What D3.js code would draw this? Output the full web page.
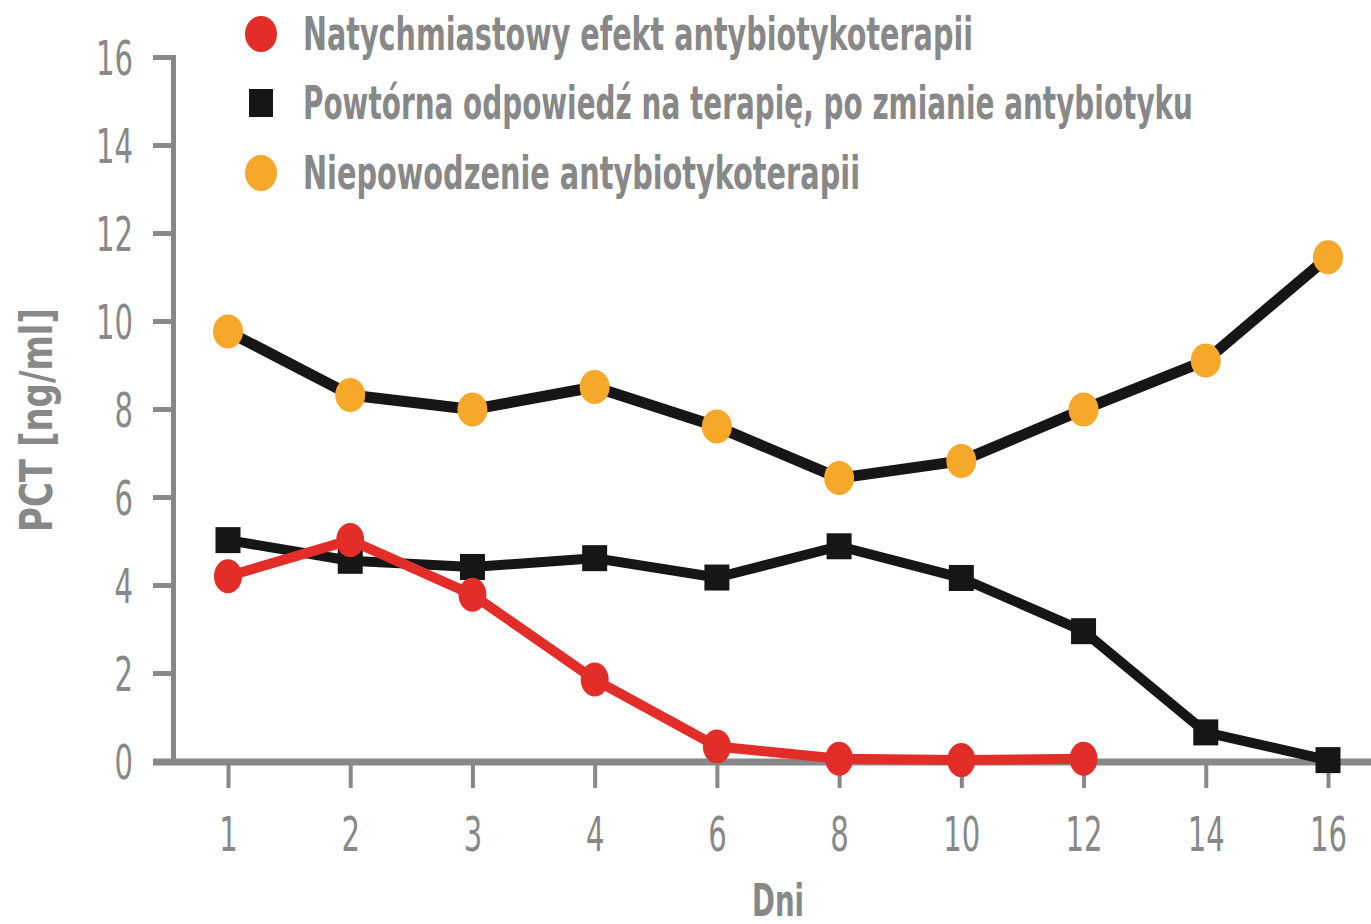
<!DOCTYPE html>
<html><head><meta charset="utf-8">
<script src="https://cdn.jsdelivr.net/npm/d3@7"></script>
<style>
html,body{margin:0;padding:0;background:#fff;}
svg{display:block;}
text{font-family:"Liberation Sans Narrow","DejaVu Sans Condensed","Liberation Sans",Arial,sans-serif;}
</style></head>
<body>
<script>
const days = ["1","2","3","4","6","8","10","12","14","16"];
const yTicks = [0,2,4,6,8,10,12,14,16];
const seriesNames = [
  "Natychmiastowy efekt antybiotykoterapii",
  "Powtórna odpowiedź na terapię, po zmianie antybiotyku",
  "Niepowodzenie antybiotykoterapii"
];
const immediate = [4.2, 5.02, 3.78, 1.85, 0.33, 0.05, 0.02, 0.05, null, null];
const repeated  = [5.02, 4.55, 4.41, 4.61, 4.17, 4.88, 4.16, 2.95, 0.65, 0.02];
const failure   = [9.76, 8.32, 7.99, 8.5, 7.6, 6.43, 6.82, 7.99, 9.1, 11.45];
const xTitle = "Dni";
const yTitle = "PCT [ng/ml]";

const W = 1371, H = 924;
const gray = "#888888";
const red = "#e32d29", orange = "#f6a82b", black = "#161616";

const svg = d3.select("body").append("svg").attr("width", W).attr("height", H);

const x = d3.scalePoint().domain(days).range([228, 1328]);
const y = d3.scaleLinear().domain([0, 16]).range([761, 57]);

// X axis baseline
svg.append("line").attr("x1", 153).attr("x2", W).attr("y1", y(0)+1).attr("y2", y(0)+1)
  .attr("stroke", gray).attr("stroke-width", 7);

// Y axis
const yAxis = svg.append("g").attr("transform", "translate(173,0)")
  .call(d3.axisLeft(y).tickValues(yTicks).tickSize(20).tickSizeOuter(20).tickPadding(20));
yAxis.select(".domain").attr("stroke", gray).attr("stroke-width", 5);
yAxis.selectAll(".tick line").attr("stroke", gray).attr("stroke-width", 5);
yAxis.selectAll(".tick text").attr("fill", gray).attr("font-size", 48)
  .attr("font-family", null).attr("dy", "0.36em")
  .each(function(){ const t=d3.select(this); t.attr("textLength", 18.5*t.text().length).attr("lengthAdjust","spacingAndGlyphs"); });

// X axis ticks/labels
const xAxis = svg.append("g").attr("transform", `translate(0,${y(0)+1})`)
  .call(d3.axisBottom(x).tickSize(26).tickPadding(28));
xAxis.select(".domain").remove();
xAxis.selectAll(".tick line").attr("stroke", gray).attr("stroke-width", 4);
xAxis.selectAll(".tick text").attr("fill", gray).attr("font-size", 48)
  .attr("font-family", null).attr("dy", "0.72em")
  .each(function(){ const t=d3.select(this); t.attr("textLength", 18.5*t.text().length).attr("lengthAdjust","spacingAndGlyphs"); });

// Titles
svg.append("text").attr("x", 778).attr("y", 916).attr("text-anchor", "middle")
  .attr("fill", gray).attr("font-weight", "bold").attr("font-size", 44).text(xTitle)
  .attr("textLength", 52).attr("lengthAdjust","spacingAndGlyphs");
svg.append("text").attr("transform", "translate(52,420) rotate(-90)").attr("text-anchor", "middle")
  .attr("fill", gray).attr("font-weight", "bold").attr("font-size", 44).text(yTitle)
  .attr("textLength", 224).attr("lengthAdjust","spacingAndGlyphs");

// Lines
const line = d3.line().defined(d => d.v != null).x(d => x(d.day)).y(d => y(d.v));
const toPts = arr => arr.map((v, i) => ({day: days[i], v}));

svg.append("path").datum(toPts(failure)).attr("d", line)
  .attr("fill", "none").attr("stroke", black).attr("stroke-width", 11).attr("stroke-linejoin", "round");
svg.append("path").datum(toPts(repeated)).attr("d", line)
  .attr("fill", "none").attr("stroke", black).attr("stroke-width", 10).attr("stroke-linejoin", "round");

svg.append("g").selectAll("ellipse").data(toPts(failure)).join("ellipse")
  .attr("cx", d => x(d.day)).attr("cy", d => y(d.v)).attr("rx", 15).attr("ry", 17).attr("fill", orange);
svg.append("g").selectAll("rect").data(toPts(repeated)).join("rect")
  .attr("x", d => x(d.day) - 12.5).attr("y", d => y(d.v) - 13).attr("width", 25).attr("height", 26).attr("fill", black);

svg.append("path").datum(toPts(immediate)).attr("d", line)
  .attr("fill", "none").attr("stroke", red).attr("stroke-width", 10).attr("stroke-linejoin", "round");
svg.append("g").selectAll("ellipse").data(toPts(immediate).filter(d => d.v != null)).join("ellipse")
  .attr("cx", d => x(d.day)).attr("cy", d => y(d.v)).attr("rx", 14).attr("ry", 17).attr("fill", red);

// Legend
const legW = [670, 890, 557];
const legY = [34, 103, 173];
const leg = svg.append("g");
seriesNames.forEach((name, i) => {
  const cy = legY[i];
  if (i === 1) {
    leg.append("rect").attr("x", 249).attr("y", cy - 14).attr("width", 24).attr("height", 28).attr("fill", black);
  } else {
    leg.append("ellipse").attr("cx", 261).attr("cy", cy).attr("rx", 16).attr("ry", 18).attr("fill", i === 0 ? red : orange);
  }
  leg.append("text").attr("x", 303).attr("y", cy + 16).attr("fill", gray)
    .attr("font-weight", "bold").attr("font-size", 46).text(name)
    .attr("textLength", legW[i]).attr("lengthAdjust", "spacingAndGlyphs");
});
</script>
</body></html>
